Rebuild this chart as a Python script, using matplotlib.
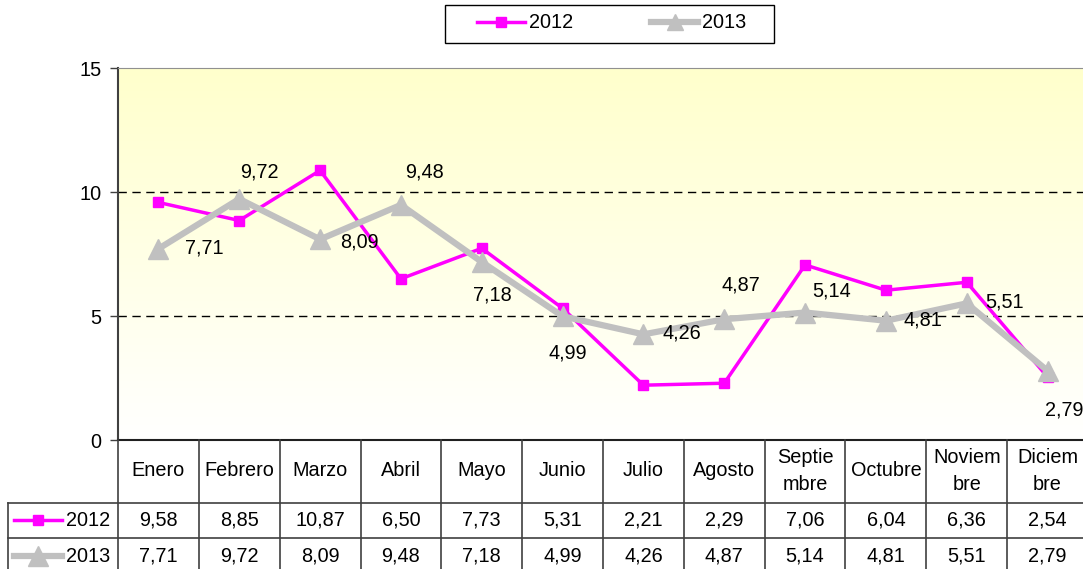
import numpy as np
import matplotlib
matplotlib.use('Agg')
import matplotlib.pyplot as plt
from matplotlib.lines import Line2D
from matplotlib.patches import Rectangle
from matplotlib.transforms import blended_transform_factory

plt.rcParams['font.family'] = ['Liberation Sans', 'DejaVu Sans']

meses = ['Enero', 'Febrero', 'Marzo', 'Abril', 'Mayo', 'Junio', 'Julio',
         'Agosto', 'Septie\nmbre', 'Octubre', 'Noviem\nbre', 'Diciem\nbre']
v2012 = [9.58, 8.85, 10.87, 6.50, 7.73, 5.31, 2.21, 2.29, 7.06, 6.04, 6.36, 2.54]
v2013 = [7.71, 9.72, 8.09, 9.48, 7.18, 4.99, 4.26, 4.87, 5.14, 4.81, 5.51, 2.79]
series = ['2012', '2013']

# label offsets (pixels) for the 2013 data labels
lab_off = [(46, 1), (20, 27), (39, -3), (24, 33), (11, -33), (5, -37),
           (38, 1), (17, 34), (27, 22), (37, 1), (38, 1), (17, -39)]

W, H = 1083, 569
FS = 14.3
mag = '#FF00FF'
gris = '#C0C0C0'

fig = plt.figure(figsize=(W / 100, H / 100), dpi=100)

def fy(py):
    return 1 - py / H

def fx(px):
    return px / W

x0, x1 = 118, 1088
ytop, ybot = 68, 440
ax = fig.add_axes([fx(x0), fy(ybot), (x1 - x0) / W, (ybot - ytop) / H])

# yellow to white gradient behind the plot
grad = np.linspace(0, 1, 256).reshape(-1, 1)
top = np.array([1.0, 1.0, 0.80])
bot = np.array([1.0, 1.0, 1.0])
img = top[None, None, :] * (1 - grad[:, :, None]) + bot[None, None, :] * grad[:, :, None]
ax.imshow(img, extent=[-0.5, 11.5, 0, 15], aspect='auto', zorder=0, origin='upper')
ax.set_xlim(-0.5, 11.5)
ax.set_ylim(0, 15)

for yv in [5, 10]:
    ax.axhline(yv, color='black', lw=1, ls=(0, (6, 4)), zorder=1)

x = np.arange(len(meses))
ax.plot(x, v2012, color=mag, lw=2.5, marker='s', ms=7, zorder=3)
ax.plot(x, v2013, color=gris, lw=4.5, marker='^', ms=14, zorder=4)

for i, v in enumerate(v2013):
    ax.annotate(('%.2f' % v).replace('.', ','), (x[i], v), xytext=lab_off[i],
                textcoords='offset pixels', ha='center', va='center',
                fontsize=FS, zorder=5)

ax.set_yticks([0, 5, 10, 15])
ax.set_yticklabels(['0', '5', '10', '15'], fontsize=FS)
ax.tick_params(axis='y', length=6, width=1, color='#404040', pad=6)
ax.set_xticks([])
ax.spines['right'].set_visible(False)
ax.spines['top'].set_color('#909090')
ax.spines['left'].set_color('#404040')
ax.spines['bottom'].set_color('#202020')
ax.spines['left'].set_linewidth(1.5)
ax.spines['bottom'].set_linewidth(1.5)

# data table under the axis
tr = blended_transform_factory(ax.transData, fig.transFigure)
lc = '#404040'
ybottom = 575
for b in np.arange(-0.5, 12.5, 1):
    fig.add_artist(Line2D([b, b], [fy(ybot), fy(ybottom)], transform=tr,
                          color=lc, lw=1.2, clip_on=False))
for yl in [503, 538]:
    fig.add_artist(Line2D([fx(8), 1.01], [fy(yl), fy(yl)], color=lc, lw=1.2))
fig.add_artist(Line2D([fx(8), fx(8)], [fy(503), fy(ybottom)], color=lc, lw=1.2))

for i, m in enumerate(meses):
    fig.text(x[i], fy(471), m, transform=tr, ha='center', va='center',
             fontsize=FS, linespacing=1.5)
for row, vals in zip([520, 556], [v2012, v2013]):
    for i, v in enumerate(vals):
        fig.text(x[i], fy(row), ('%.2f' % v).replace('.', ','), transform=tr,
                 ha='center', va='center', fontsize=FS)

# legend keys inside the table
for row, col, lw, mk, ms, name in [(520, mag, 2.5, 's', 7, series[0]),
                                   (556, gris, 4.5, '^', 14, series[1])]:
    fig.add_artist(Line2D([fx(14), fx(62)], [fy(row), fy(row)], color=col, lw=lw))
    fig.add_artist(Line2D([fx(38)], [fy(row)], color=col, marker=mk, ms=ms, lw=0))
    fig.text(fx(66), fy(row), name, ha='left', va='center', fontsize=FS)

# legend at the top, with its own box
fig.add_artist(Rectangle((fx(445), fy(43)), fx(774 - 445), (43 - 5) / H,
                         transform=fig.transFigure, fill=False,
                         edgecolor='black', lw=1))
handles = [Line2D([], [], color=mag, lw=2.5, marker='s', ms=7),
           Line2D([], [], color=gris, lw=4.5, marker='^', ms=12)]
fig.legend(handles, series, loc='center', ncol=2,
           bbox_to_anchor=(fx(612), fy(23)), fontsize=FS, frameon=False,
           handlelength=2.4, handletextpad=0.2, columnspacing=3.9,
           borderpad=0, borderaxespad=0)

fig.savefig('out.png', dpi=100)
